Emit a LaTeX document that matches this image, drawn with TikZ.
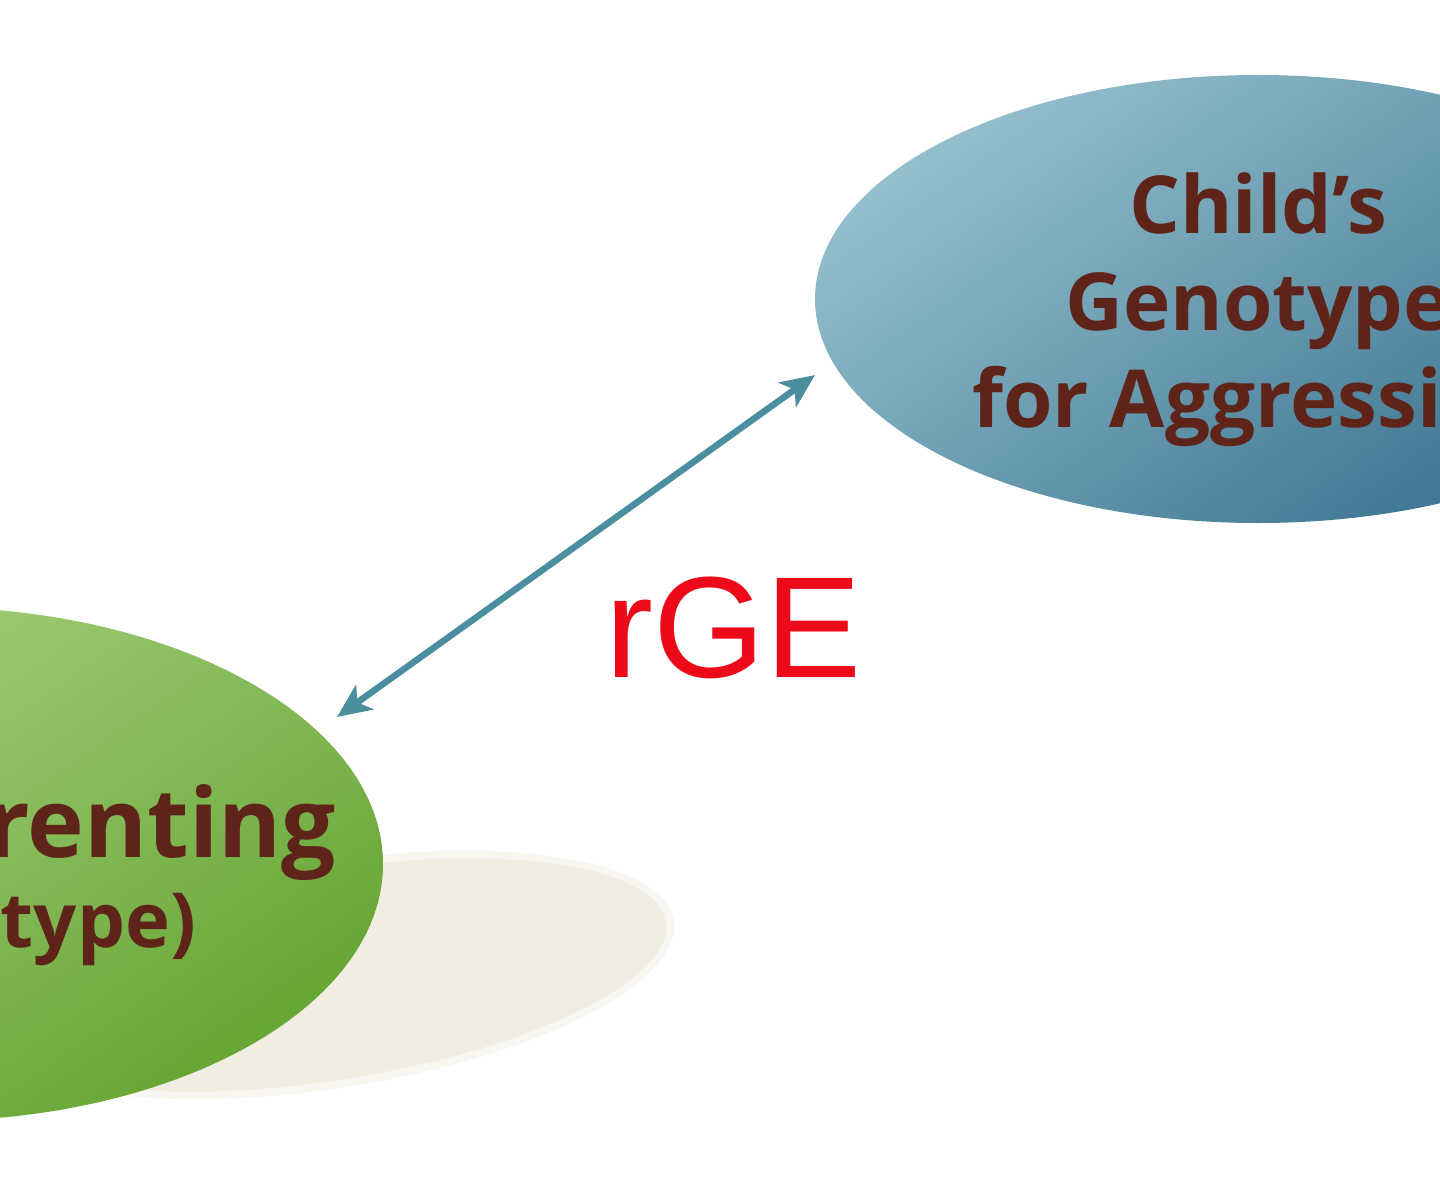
\documentclass[tikz,border=0pt]{standalone}
\usepackage{fontspec}
\newfontfamily\osans{Open Sans}
\newfontfamily\lsans{Liberation Sans}
\usetikzlibrary{shapes.geometric,arrows.meta}
\definecolor{txtbrown}{HTML}{5E2419}
\definecolor{bluelight}{HTML}{94C0CD}
\definecolor{bluedark}{HTML}{3A7290}
\definecolor{greenlight}{HTML}{ADD486}
\definecolor{greendark}{HTML}{66A634}
\definecolor{shadowbeige}{HTML}{F1EDE3}
\definecolor{arrowteal}{HTML}{4A8E9F}
\definecolor{rgered}{HTML}{EC0A1A}
\tikzset{
  blob/.style={ellipse, inner sep=0pt, draw=none},
  bluefill/.style={top color=bluelight, bottom color=bluedark, shading angle=35},
  greenfill/.style={top color=greenlight, bottom color=greendark, shading angle=35},
  boxtext/.style={text=txtbrown, inner sep=0pt},
  linkarrow/.style={draw=arrowteal, line width=6.5pt,
    {Stealth[length=34pt,width=30pt,inset=9pt]}-{Stealth[length=34pt,width=30pt,inset=9pt]}},
  rgelabel/.style={text=rgered, inner sep=0pt, font=\lsans\fontsize{144}{150}\selectfont}
}
\begin{document}
\begin{tikzpicture}[x=1pt,y=-1pt]
\useasboundingbox (0,0) rectangle (1440,1200);
\clip (0,0) rectangle (1440,1200);
\fill[white] (0,0) rectangle (1440,1200);

% shadow under the green ellipse
\fill[shadowbeige!50, rotate around={9:(330,975)}] (330,975) ellipse [x radius=348, y radius=113];
\fill[shadowbeige, rotate around={9:(330,975)}] (330,975) ellipse [x radius=340, y radius=105];

% ellipses
\node[blob, bluefill, minimum width=886pt, minimum height=448pt] (child) at (1258,299) {};
\node[blob, greenfill, minimum width=912pt, minimum height=514pt] (parent) at (-73,864) {};

% texts
\node[boxtext, align=center, font=\osans\bfseries\fontsize{80}{97}\selectfont] (childtext) at (1258,310) {Child’s\\Genotype\\for Aggression};
\node[boxtext, anchor=base east, font=\osans\bfseries\fontsize{96}{100}\selectfont] (parenttext1) at (336,857) {renting};
\node[boxtext, anchor=base east, font=\osans\bfseries\fontsize{76}{80}\selectfont] (parenttext2) at (196,947) {type)};

% connector
\coordinate (ptip) at (337,717);
\coordinate (ctip) at (815,375);
\draw[linkarrow] (ptip) -- (ctip);

% label
\node[rgelabel, anchor=base west] (rge) at (605,677) {rGE};
\end{tikzpicture}
\end{document}
